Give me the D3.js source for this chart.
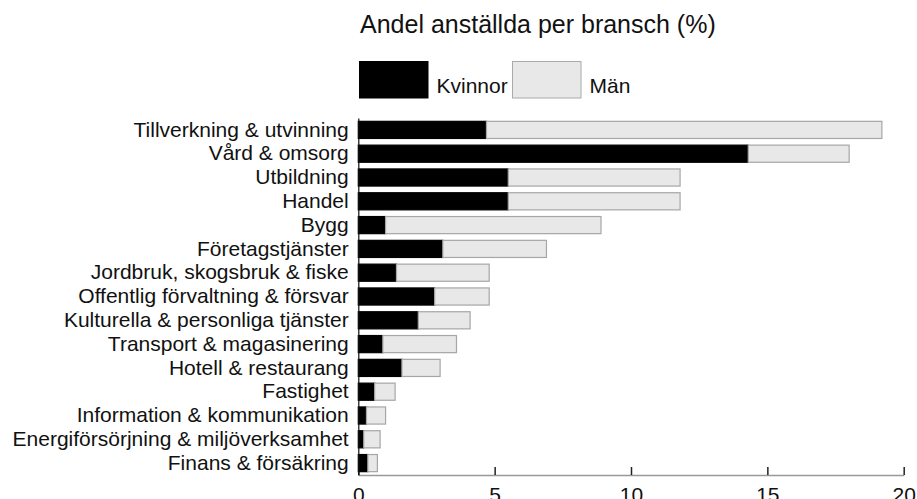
<!DOCTYPE html>
<html>
<head>
<meta charset="utf-8">
<script src="https://cdn.jsdelivr.net/npm/d3@7"></script>
<style>
  body { margin: 0; background: white; }
  svg { display: block; font-family: "Liberation Sans", Arial, sans-serif; }
</style>
</head>
<body>
<div id="chart"></div>
<script>
const categories = [
  "Tillverkning & utvinning",
  "Vård & omsorg",
  "Utbildning",
  "Handel",
  "Bygg",
  "Företagstjänster",
  "Jordbruk, skogsbruk & fiske",
  "Offentlig förvaltning & försvar",
  "Kulturella & personliga tjänster",
  "Transport & magasinering",
  "Hotell & restaurang",
  "Fastighet",
  "Information & kommunikation",
  "Energiförsörjning & miljöverksamhet",
  "Finans & försäkring"
];
const kvinnor = [4.7, 14.3, 5.5, 5.5, 1.0, 3.1, 1.4, 2.8, 2.2, 0.9, 1.6, 0.6, 0.3, 0.2, 0.35];
const man     = [14.5, 3.7, 6.3, 6.3, 7.9, 3.8, 3.4, 2.0, 1.9, 2.7, 1.4, 0.75, 0.7, 0.6, 0.35];
const xTicks = [0, 5, 10, 15, 20];
const title = "Andel anställda per bransch (%)";
const seriesNames = ["Kvinnor", "Män"];

const width = 917, height = 499;
const svg = d3.select("#chart").append("svg")
  .attr("width", width)
  .attr("height", height);

const x = d3.scaleLinear().domain([0, 20]).range([358.3, 903.7]);
const y = d3.scaleBand()
  .domain(categories)
  .range([118, 475])
  .paddingInner(0.28)
  .paddingOuter(0.14);

const color = d3.scaleOrdinal().domain(seriesNames).range(["#000000", "#e8e8e8"]);

// title
svg.append("text")
  .attr("x", 360)
  .attr("y", 33)
  .style("font-size", "25px")
  .attr("fill", "#111")
  .text(title);

// legend
const legend = svg.append("g");
const legendX = [359.5, 512.5];
seriesNames.forEach((name, i) => {
  legend.append("rect")
    .attr("x", legendX[i])
    .attr("y", 61.5)
    .attr("width", 68.5)
    .attr("height", 36.5)
    .attr("fill", color(name))
    .attr("stroke", i === 0 ? "#000" : "#aaa")
    .attr("stroke-width", 1);
  legend.append("text")
    .attr("x", legendX[i] + 77)
    .attr("y", 92.5)
    .style("font-size", "21px")
    .attr("fill", "#111")
    .text(name);
});

// stacked data
const rows = categories.map((c, i) => ({ category: c, Kvinnor: kvinnor[i], "Män": man[i] }));
const stack = d3.stack().keys(seriesNames)(rows);

// axes
const xAxis = svg.append("g")
  .attr("transform", `translate(0,${475})`)
  .call(d3.axisBottom(x).tickValues(xTicks).tickSizeInner(-8).tickSizeOuter(0).tickPadding(12));
xAxis.select(".domain").attr("stroke", "#999").attr("stroke-width", 1.5);
xAxis.selectAll(".tick line").attr("stroke", "#222").attr("stroke-width", 1.5);
xAxis.selectAll(".tick text")
  .style("font-size", "21px")
  .style("font-family", "'Liberation Sans', Arial, sans-serif")
  .attr("fill", "#111");

svg.selectAll("g.layer")
  .data(stack)
  .join("g")
  .attr("class", "layer")
  .attr("fill", d => color(d.key))
  .attr("stroke", d => d.key === "Män" ? "#a6a6a6" : "#000")
  .attr("stroke-width", 1.2)
  .selectAll("rect")
  .data(d => d)
  .join("rect")
  .attr("x", d => x(d[0]))
  .attr("y", d => y(d.data.category))
  .attr("width", d => x(d[1]) - x(d[0]))
  .attr("height", y.bandwidth());

const yAxis = svg.append("g")
  .attr("transform", `translate(${358.3},0)`)
  .call(d3.axisLeft(y).tickSize(0).tickPadding(9.6));
yAxis.select(".domain").attr("stroke", "#111").attr("stroke-width", 1.2);
yAxis.selectAll(".tick text")
  .style("font-size", "21px")
  .style("font-family", "'Liberation Sans', Arial, sans-serif")
  .attr("fill", "#111");
</script>
</body>
</html>
